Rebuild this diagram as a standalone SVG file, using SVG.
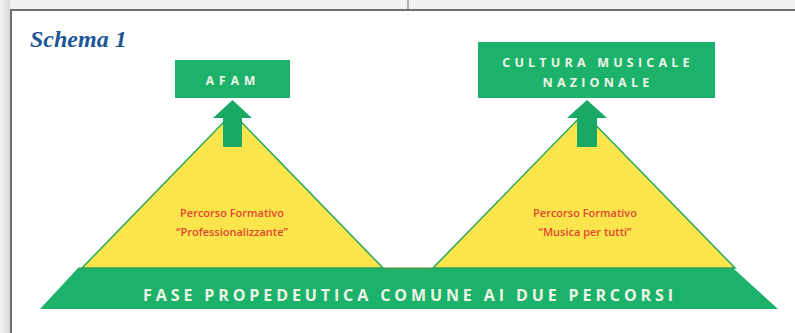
<svg xmlns="http://www.w3.org/2000/svg" width="795" height="333" viewBox="0 0 795 333">
<defs>
<style>
.box{fill:#1db26b;}
.tri{fill:#fbe54d;stroke:#2aa65a;stroke-width:1.5;}
.arr{fill:#1aa866;}
.lbl{font-family:"Open Sans","DejaVu Sans",sans-serif;font-weight:bold;fill:#eef5e6;text-anchor:middle;}
.red{font-family:"Open Sans","DejaVu Sans",sans-serif;font-weight:600;fill:#e2472f;font-size:11px;text-anchor:middle;}
</style>
<linearGradient id="sh" x1="0" y1="0" x2="1" y2="0">
<stop offset="0" stop-color="#f4f4f4"/><stop offset="1" stop-color="#d8d8d8"/>
</linearGradient>
</defs>
<rect x="0" y="0" width="795" height="333" fill="#ffffff"/>
<rect x="0" y="0" width="795" height="9" fill="#f1f1f1"/>
<rect x="0" y="0" width="10" height="333" fill="url(#sh)"/>
<line x1="408" y1="0" x2="408" y2="9" stroke="#9a9a9a" stroke-width="1.5"/>
<line x1="10" y1="10" x2="795" y2="10" stroke="#6e6e6e" stroke-width="2"/>
<line x1="11" y1="10" x2="11" y2="333" stroke="#6e6e6e" stroke-width="2"/>
<text x="30" y="47" font-family="Liberation Serif,serif" font-style="italic" font-weight="bold" font-size="24" fill="#1c5697">Schema 1</text>

<g id="base">
<polygon points="78,268 733,268 778,309 40,309" class="box"/>
<line x1="78" y1="268" x2="733" y2="268" stroke="#6f8a3a" stroke-width="1.2"/>
<text x="410" y="301" class="lbl" font-size="16" letter-spacing="3.9">FASE PROPEDEUTICA COMUNE AI DUE PERCORSI</text>
</g>

<g id="tri-left">
<polygon points="232.5,113 383,268 82,268" class="tri"/>
<text class="red"><tspan x="232" y="217">Percorso Formativo</tspan><tspan x="232" y="236">“Professionalizzante”</tspan></text>
</g>

<g id="tri-right">
<polygon points="584,113 735,268 433,268" class="tri"/>
<text class="red"><tspan x="585" y="217">Percorso Formativo</tspan><tspan x="585" y="236">“Musica per tutti”</tspan></text>
</g>

<g id="afam">
<rect x="175" y="60" width="115" height="38" class="box"/>
<text x="233" y="85" class="lbl" font-size="12" letter-spacing="5">AFAM</text>
</g>

<g id="cultura">
<rect x="478" y="42" width="237" height="56" class="box"/>
<text class="lbl" font-size="12.5" letter-spacing="4.2"><tspan x="598" y="67">CULTURA MUSICALE</tspan><tspan x="598" y="87">NAZIONALE</tspan></text>
</g>

<g id="connectors">
<polygon points="232.5,100 252,118 242,118 242,147 223,147 223,118 213,118" class="arr"/>
<polygon points="587,100 607,118 597,118 597,147 577,147 577,118 567,118" class="arr"/>
</g>
</svg>
